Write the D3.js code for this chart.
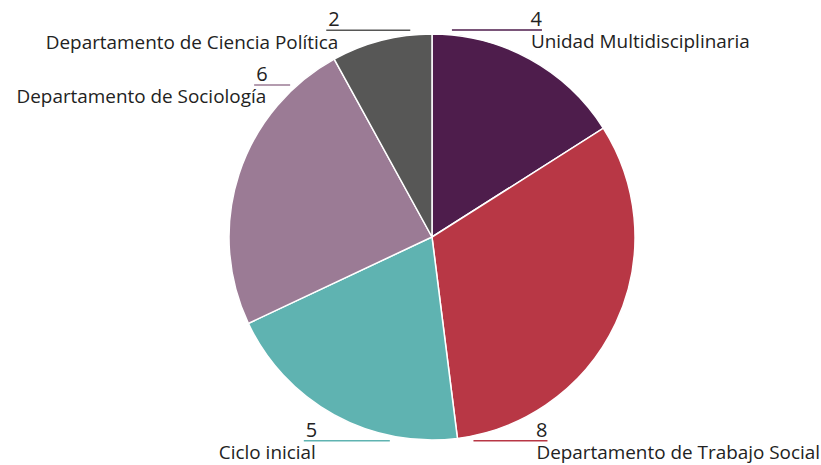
<!DOCTYPE html>
<html>
<head>
<meta charset="utf-8">
<script src="https://cdn.jsdelivr.net/npm/d3@7"></script>
<style>
  body { margin: 0; background: #fff; }
  svg { display: block; font-family: "Open Sans", sans-serif; }
</style>
</head>
<body>
<svg id="chart"></svg>
<script>
// Data
const categories = [
  "Unidad Multidisciplinaria",
  "Departamento de Trabajo Social",
  "Ciclo inicial",
  "Departamento de Sociología",
  "Departamento de Ciencia Política"
];
const values = [4, 8, 5, 6, 2];
const colors = ["#4e1d4c", "#b83745", "#5fb3b1", "#9b7b95", "#575756"];

// Label placement (angle in degrees from top, horizontal leader length)
const labelAngles = [5.5, 168.5, 191.7, 317, 354];
const leaderLengths = [90, 74, 86, 36, 84];

const width = 821, height = 465;
const cx = 432, cy = 237, radius = 203;

const svg = d3.select("#chart")
    .attr("width", width)
    .attr("height", height);

const pie = d3.pie().sort(null).value(d => d);
const arc = d3.arc().innerRadius(0).outerRadius(radius);
const arcs = pie(values);

const g = svg.append("g").attr("transform", `translate(${cx},${cy})`);

g.selectAll("path")
  .data(arcs)
  .join("path")
    .attr("d", arc)
    .attr("fill", (d, i) => colors[i])
    .attr("stroke", "#fff")
    .attr("stroke-width", 1.5);

// Labels
const labelR = radius + 5;
const lab = g.selectAll("g.label")
  .data(arcs)
  .join("g")
    .attr("class", "label");

lab.each(function(d, i) {
  const a = labelAngles[i] * Math.PI / 180;
  const x0 = labelR * Math.sin(a);
  const y0 = -labelR * Math.cos(a);
  const right = labelAngles[i] < 180;
  const x1 = right ? x0 + leaderLengths[i] : x0 - leaderLengths[i];
  const el = d3.select(this);

  el.append("line")
      .attr("x1", x0).attr("y1", y0)
      .attr("x2", x1).attr("y2", y0)
      .attr("stroke", colors[i])
      .attr("stroke-width", 1.5);

  el.append("text")
      .attr("x", right ? x1 : x1 + 2)
      .attr("y", y0 - 4)
      .attr("text-anchor", right ? "end" : "start")
      .attr("font-size", 20)
      .attr("fill", "#222")
      .text(values[i]);

  el.append("text")
      .attr("x", right ? x1 - 11 : x1 + 12)
      .attr("y", y0 + 18.5)
      .attr("text-anchor", right ? "start" : "end")
      .attr("font-size", 18.9)
      .attr("fill", "#222")
      .text(categories[i]);
});
</script>
</body>
</html>
